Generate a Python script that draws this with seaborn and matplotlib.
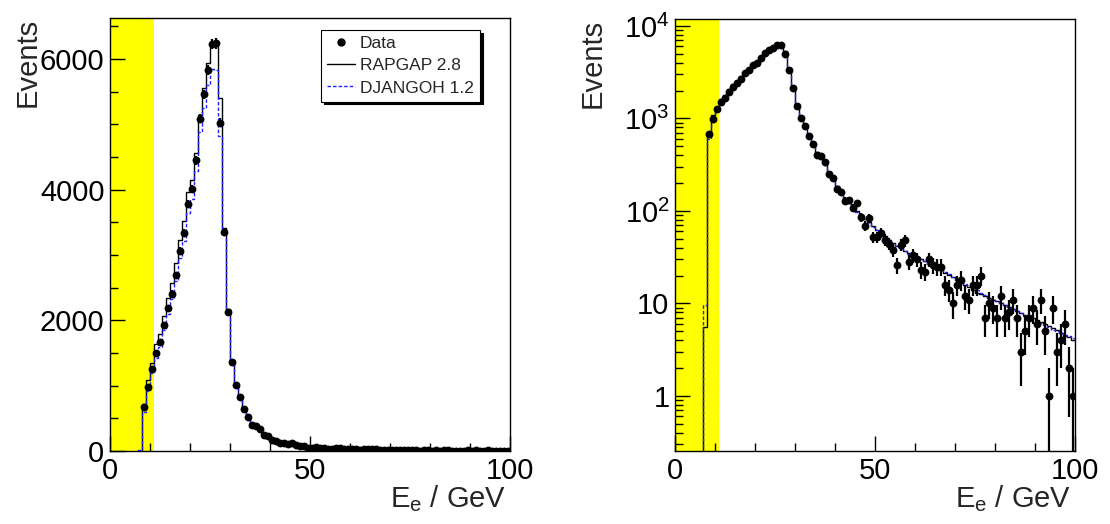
import numpy as np
import pandas as pd
import matplotlib
matplotlib.use("Agg")
import matplotlib.pyplot as plt
import seaborn as sns
from matplotlib.lines import Line2D
from matplotlib.ticker import MultipleLocator, FixedLocator, FuncFormatter, LogLocator, NullFormatter

sns.set_style("ticks")
plt.rcParams["font.family"] = ["Liberation Sans", "DejaVu Sans"]
plt.rcParams["mathtext.fontset"] = "custom"
plt.rcParams["mathtext.rm"] = "Liberation Sans"
plt.rcParams["mathtext.it"] = "Liberation Sans:italic"

# ---------------- data ----------------
data_first_bin = 8      # first filled data bin lower edge (GeV), 1 GeV bins
data_counts = [672, 975, 1255, 1500, 1665, 1925, 2190, 2410, 2690, 3070,
               3340, 3780, 4010, 4450, 5090, 5460, 5830, 6235, 6240, 5025,
               3350, 2130, 1367, 1008, 825, 641, 526, 402, 388, 336,
               250, 226, 172, 160, 129, 130, 108, 121, 85, 69,
               84, 52, 52, 58, 49, 44, 38, 26, 43, 48,
               28, 33, 30, 23, 22, 30, 26, 25, 25, 16,
               14, 10, 16, 18, 12, 11, 16, 16, 20, 7,
               10, 9, 7, 12, 7, 8, 11, 7, 3, 5,
               7, 9, 6, 11, 5, 1, 9, 3, 4, 6,
               2, 1]
mc_first_bin = 7
rapgap = [5.5,
          720, 1080, 1340, 1640, 1790, 2060, 2340, 2570, 2880, 3230,
          3520, 3960, 4150, 4570, 5150, 5560, 5940, 6240, 6220, 5400,
          3420, 2170, 1400, 1030, 815, 650, 525, 430, 370, 320,
          265, 225, 188, 160, 138, 122, 110, 100, 90, 82,
          75, 68, 62, 57, 53, 49, 45, 42, 39.5, 37,
          35, 33.5, 32, 30, 28.5, 27, 25.5, 24, 23, 21.5,
          20.5, 19.2, 18, 17, 16, 15, 14, 13, 12.5, 12,
          11.5, 11, 10.5, 10, 9.6, 9.2, 8.8, 8.3, 7.9, 7.5,
          7.2, 6.9, 6.6, 6.3, 6.0, 5.7, 5.4, 5.1, 4.8, 4.5,
          4.3, 4.0]
djangoh = [9.5,
           600, 920, 1200, 1430, 1600, 1850, 2100, 2320, 2600, 2950,
           3220, 3640, 3860, 4280, 4880, 5250, 5600, 5850, 5840, 4830,
           3330, 2120, 1380, 1010, 805, 640, 520, 425, 365, 316,
           262, 222, 185, 158, 136, 121, 108, 98, 89, 81,
           74, 67.5, 61.5, 56.5, 52, 48.5, 45, 41.5, 39, 36.5,
           34.5, 33, 31.5, 30, 28.5, 27, 25.5, 24.2, 23, 21.8,
           20.6, 19.5, 18.4, 17.4, 16.4, 15.5, 14.6, 13.8, 13, 12.3,
           11.7, 11.1, 10.5, 10, 9.5, 9.0, 8.6, 8.2, 7.8, 7.4,
           7.0, 6.7, 6.4, 6.1, 5.8, 5.5, 5.2, 5.0, 4.8, 4.6,
           4.4, 4.2]
cut_region = (0, 11)
x_limits = (0, 100)
legend_labels = ["Data", "RAPGAP 2.8", "DJANGOH 1.2"]

# ---------------- derived ----------------
counts = np.array(data_counts, dtype=float)
centers = data_first_bin + 0.5 + np.arange(len(counts))
err = np.sqrt(counts)


def step_frame(first, vals, floor):
    edges = first + np.arange(len(vals) + 1)
    xs = np.concatenate([[edges[0]], edges])
    ys = np.concatenate([[floor], vals, [vals[-1]]])
    return pd.DataFrame({"x": xs, "y": ys})


FS = 21
FST = 21
fig = plt.figure(figsize=(11.1, 5.24), dpi=100)
axL = fig.add_axes([110 / 1110, 73 / 524, 400 / 1110, 433 / 524])
axR = fig.add_axes([675 / 1110, 73 / 524, 400 / 1110, 432 / 524])

for ax, logy in [(axL, False), (axR, True)]:
    floor = 1e-3 if logy else 0.0
    if logy:
        ax.set_yscale("log")
        ax.set_ylim(0.254, 11880)
    else:
        ax.set_ylim(0, 6630)
    ax.set_xlim(*x_limits)
    ax.axvspan(*cut_region, color="#ffff00", lw=0, zorder=0)

    dfr = step_frame(mc_first_bin, rapgap, floor)
    dfd = step_frame(mc_first_bin, djangoh, floor)
    sns.lineplot(data=dfr, x="x", y="y", estimator=None, sort=False,
                 drawstyle="steps-post", color="black", lw=1.0, ax=ax, zorder=2)
    sns.lineplot(data=dfd, x="x", y="y", estimator=None, sort=False,
                 drawstyle="steps-post", color="#2020ff", lw=1.0, ax=ax, zorder=2,
                 dashes=False, linestyle=(0, (2.5, 1.5)))

    lower = np.minimum(err, counts - floor * 1.0001) if logy else err
    ax.errorbar(centers, counts, yerr=[lower, err], fmt="none", ecolor="black",
                elinewidth=1.6, capsize=0, zorder=3)
    sns.scatterplot(x=centers, y=counts, color="black", s=32, linewidth=0,
                    ax=ax, zorder=4, legend=False)

    ax.xaxis.set_major_locator(FixedLocator([0, 50, 100]))
    ax.xaxis.set_minor_locator(MultipleLocator(10))
    if logy:
        ax.yaxis.set_major_locator(LogLocator(base=10, numticks=10))
        ax.yaxis.set_minor_locator(LogLocator(base=10, subs=np.arange(2, 10), numticks=20))
        ax.yaxis.set_minor_formatter(NullFormatter())

        def fmt(v, pos):
            e = int(round(np.log10(v)))
            if e == 0:
                return "1"
            if e == 1:
                return "10"
            return r"$\mathregular{10^{%d}}$" % e
        ax.yaxis.set_major_formatter(FuncFormatter(fmt))
    else:
        ax.yaxis.set_major_locator(MultipleLocator(2000))
        ax.yaxis.set_minor_locator(MultipleLocator(500))

    ax.tick_params(which="both", direction="in", top=False, right=False,
                   width=1, colors="black")
    ax.tick_params(which="major", length=11, labelsize=FST, pad=4)
    ax.tick_params(which="minor", length=5.5)
    for s in ax.spines.values():
        s.set_color("black")
        s.set_linewidth(1.0)

    ax.set_ylabel("Events", fontsize=FS, loc="top")
    ax.yaxis.set_label_coords(-0.17, 1.0)
    ax.set_xlabel(r"$\mathregular{E_{e}}$ / GeV", fontsize=FS, loc="right")
    ax.xaxis.set_label_coords(0.99, -0.075)

handles = [
    Line2D([], [], marker="o", color="black", linestyle="none", markersize=5),
    Line2D([], [], color="black", lw=1.0),
    Line2D([], [], color="#2020ff", lw=1.0, linestyle=(0, (2.5, 1.5))),
]
leg = axL.legend(handles, legend_labels, loc="upper left",
                 bbox_to_anchor=(0.5275, 0.972), borderaxespad=0,
                 fontsize=12.5, frameon=True, fancybox=False,
                 shadow={"color": "black", "alpha": 1.0},
                 handlelength=1.6, handletextpad=0.3, labelspacing=0.4,
                 borderpad=0.35)
leg.get_frame().set_edgecolor("black")
leg.get_frame().set_linewidth(0.8)
leg.get_frame().set_alpha(1.0)

fig.savefig("out.png", dpi=100)
